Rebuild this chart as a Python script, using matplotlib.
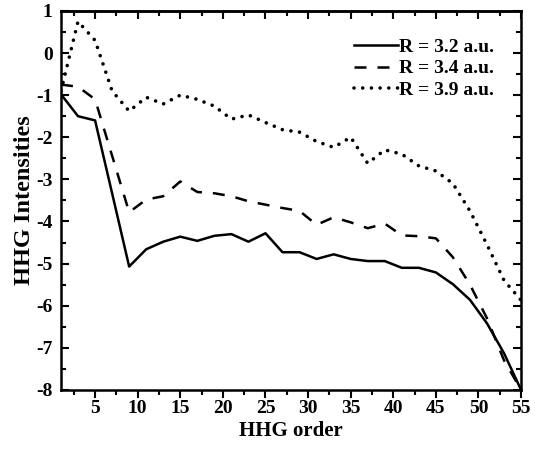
import numpy as np
import matplotlib
matplotlib.use('Agg')
import matplotlib.pyplot as plt
from matplotlib.ticker import MultipleLocator

#dados (ordem harmonica e log da intensidade)
ordem = [1, 3, 5, 7, 9, 11, 13, 15, 17, 19, 21, 23, 25, 27, 29,
         31, 33, 35, 37, 39, 41, 43, 45, 47, 49, 51, 53, 55]

r32 = [-0.98, -1.50, -1.60, -3.33, -5.07, -4.66, -4.48, -4.36, -4.46, -4.34,
       -4.30, -4.48, -4.28, -4.73, -4.73, -4.89, -4.78, -4.89, -4.94, -4.94,
       -5.10, -5.10, -5.21, -5.49, -5.86, -6.42, -7.13, -8.00]

r34 = [-0.75, -0.80, -1.10, -2.44, -3.78, -3.48, -3.40, -3.05, -3.30, -3.33,
       -3.40, -3.52, -3.60, -3.68, -3.75, -4.08, -3.90, -4.02, -4.16, -4.05,
       -4.33, -4.35, -4.40, -4.85, -5.50, -6.30, -7.30, -8.00]

r39 = [-0.90, 0.75, 0.30, -0.90, -1.38, -1.05, -1.21, -1.00, -1.10, -1.26,
       -1.57, -1.47, -1.65, -1.82, -1.88, -2.10, -2.24, -2.00, -2.62, -2.30,
       -2.40, -2.68, -2.80, -3.10, -3.75, -4.55, -5.40, -5.87]

rotulos = ['R = 3.2 a.u.', 'R = 3.4 a.u.', 'R = 3.9 a.u.']

plt.rcParams['font.family'] = ['Liberation Serif', 'DejaVu Serif']
plt.rcParams['font.weight'] = 'bold'
plt.rcParams['axes.unicode_minus'] = False

fig = plt.figure(figsize=(5.35, 4.55), dpi=100)
ax = fig.add_axes([0.114, 0.143, 0.860, 0.833])

ax.plot(ordem, r32, color='black', lw=1.8, ls='-', label=rotulos[0])
ax.plot(ordem, r34, color='black', lw=1.8, ls=(0, (4.8, 4.4)), label=rotulos[1])
ax.plot(ordem, r39, color='black', lw=2.6, ls=(0, (0.01, 2.4)),
        dash_capstyle='round', label=rotulos[2])

ax.set_xlim(1, 55)
ax.set_ylim(-8, 1)
ax.xaxis.set_major_locator(MultipleLocator(5))
ax.xaxis.set_minor_locator(MultipleLocator(2.5))
ax.yaxis.set_major_locator(MultipleLocator(1))
ax.yaxis.set_minor_locator(MultipleLocator(0.5))

for s in ax.spines.values():
    s.set_linewidth(1.8)

ax.tick_params(axis='x', which='both', direction='out', bottom=True, top=False,
               labelsize=14, width=1.5, pad=1)
ax.tick_params(axis='y', which='both', direction='in', left=True, right=True,
               labelsize=14, width=1.5, pad=6)
ax.tick_params(which='major', length=6)
ax.tick_params(which='minor', length=3.5)

# ticks de cima para dentro (eixo secundario)
topo = ax.secondary_xaxis('top')
topo.xaxis.set_major_locator(MultipleLocator(5))
topo.xaxis.set_minor_locator(MultipleLocator(2.5))
topo.tick_params(which='both', direction='in', labeltop=False, width=1.5)
topo.tick_params(which='major', length=6)
topo.tick_params(which='minor', length=3.5)
topo.spines['top'].set_linewidth(1.8)

ax.set_xlabel('HHG order', fontsize=15, fontweight='bold', labelpad=3)
ax.set_ylabel('HHG Intensities', fontsize=17.5, fontweight='bold', labelpad=1)

ax.legend(loc='upper right', frameon=False, fontsize=14, handlelength=2.25,
          handletextpad=0.1, labelspacing=0.2, borderaxespad=0.4,
          bbox_to_anchor=(0.976, 0.969))

fig.savefig('out.png', dpi=100)
